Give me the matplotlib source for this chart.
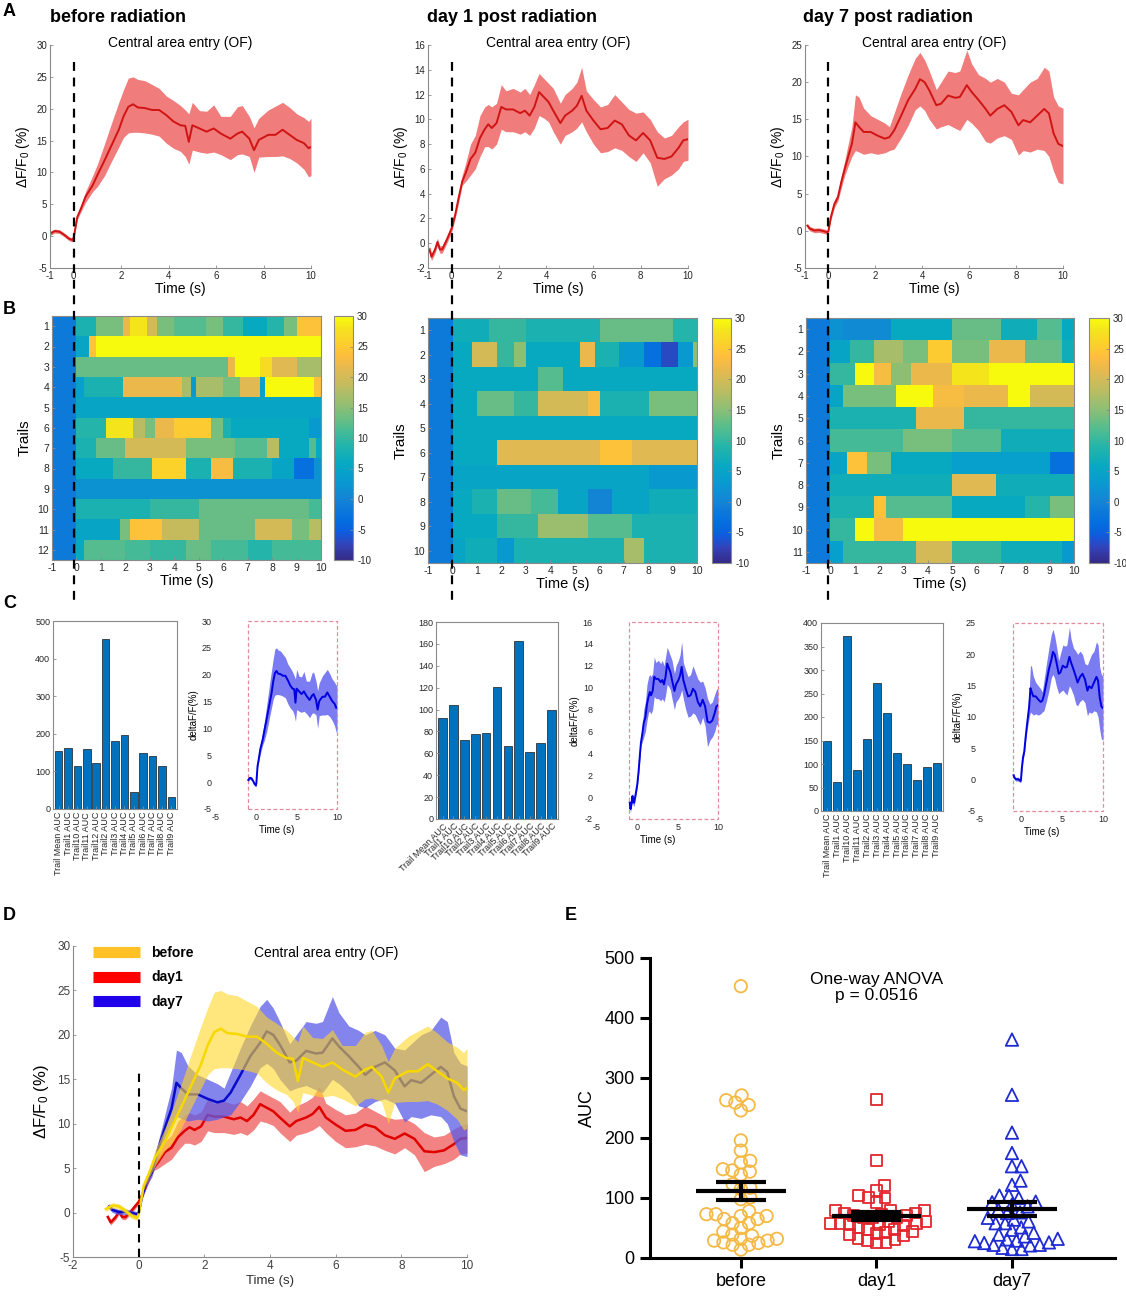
import numpy as np
import matplotlib
matplotlib.use("Agg")
import matplotlib.pyplot as plt
from matplotlib.colors import LinearSegmentedColormap
from matplotlib.lines import Line2D
from matplotlib.patches import Rectangle

plt.rcParams["font.family"] = ["Liberation Sans", "DejaVu Sans"]
plt.rcParams["mathtext.fontset"] = "custom"
plt.rcParams["mathtext.rm"] = "Liberation Sans"
plt.rcParams["mathtext.it"] = "Liberation Sans:italic"
plt.rcParams["mathtext.bf"] = "Liberation Sans:bold"
plt.rcParams["axes.unicode_minus"] = False

# ---------------------------------------------------------------- data
# mean trace and SEM band (lower / upper)
before_t = [-1.0, -0.8, -0.6, -0.4, -0.2, -0.05, 0.0, 0.15, 0.3, 0.5, 0.8, 1.0, 1.3, 1.6, 1.9,
            2.1, 2.3, 2.5, 2.7, 3.0, 3.3, 3.6, 3.9, 4.2, 4.5, 4.7, 4.85, 5.0, 5.3, 5.6, 5.9,
            6.2, 6.6, 6.9, 7.1, 7.4, 7.6, 7.8, 8.2, 8.5, 8.8, 9.1, 9.4, 9.7, 9.9, 10.0]
before_mean = [0.4, 0.8, 0.7, 0.2, -0.4, -0.6, -0.2, 3.0, 4.3, 6.2, 8.0, 9.6, 11.9, 14.3, 16.7,
               18.8, 20.3, 20.7, 20.2, 20.1, 19.8, 19.8, 19.0, 18.0, 17.4, 17.3, 14.8, 17.4, 16.9, 16.4, 16.9,
               16.1, 15.3, 16.1, 16.4, 15.3, 13.5, 15.1, 15.9, 15.9, 16.7, 15.9, 15.1, 14.6, 13.8, 14.0]
before_lo = [0.1, 0.5, 0.4, -0.1, -0.7, -0.9, -0.5, 2.6, 3.8, 5.3, 7.0, 7.8, 9.5, 11.8, 14.0,
             15.5, 16.2, 16.3, 16.3, 16.2, 16.0, 15.7, 14.6, 13.8, 13.3, 12.5, 11.3, 13.5, 13.2, 13.0, 13.2,
             12.8, 12.0, 12.8, 12.9, 12.5, 10.0, 12.4, 12.5, 12.5, 12.6, 12.2, 11.5, 10.5, 9.3, 9.5]
before_hi = [0.7, 1.1, 1.0, 0.5, -0.1, -0.3, 0.1, 3.4, 4.8, 7.0, 9.5, 11.3, 14.5, 17.8, 21.0,
             23.0, 24.8, 25.0, 24.6, 24.4, 23.8, 23.2, 22.0, 21.3, 20.5, 19.8, 19.2, 21.0, 19.7, 19.6, 20.6,
             18.8, 18.8, 20.3, 20.5, 18.8, 17.0, 18.5, 19.8, 20.4, 21.0, 20.2, 19.2, 18.6, 18.0, 18.5]

day1_t = [-0.94, -0.85, -0.7, -0.6, -0.5, -0.4, -0.2, 0.0, 0.15, 0.3, 0.45, 0.6, 0.8,
          1.0, 1.2, 1.4, 1.55, 1.7, 1.9, 2.1, 2.3, 2.6, 2.9, 3.1, 3.3, 3.5, 3.7, 3.9,
          4.1, 4.3, 4.6, 4.8, 5.1, 5.3, 5.5, 5.7, 6.0, 6.3, 6.6, 6.9, 7.2, 7.5, 7.8,
          8.1, 8.4, 8.7, 9.0, 9.3, 9.6, 9.8, 10.0]
day1_mean = [-0.5, -1.1, -0.5, 0.1, -0.5, -0.5, 0.3, 1.2, 2.3, 3.7, 5.0, 5.7, 6.8,
             7.3, 8.5, 9.2, 9.6, 9.3, 9.7, 11.0, 10.8, 10.8, 10.5, 10.7, 10.3, 11.0, 12.2, 11.8,
             11.4, 10.7, 9.7, 10.3, 10.7, 11.1, 11.9, 10.7, 9.9, 9.2, 9.3, 9.9, 9.6, 8.7, 8.3,
             8.9, 8.3, 6.9, 6.8, 7.0, 7.7, 8.3, 8.4]
day1_lo = [-0.8, -1.4, -0.8, -0.2, -0.8, -0.8, 0.0, 0.9, 2.0, 3.3, 4.7, 5.0, 5.5,
           6.0, 7.0, 7.8, 7.8, 7.6, 8.0, 9.2, 9.0, 9.0, 8.8, 9.0, 8.7, 9.3, 10.3, 10.1,
           9.8, 9.0, 8.0, 8.7, 9.0, 9.3, 9.8, 9.0, 8.0, 7.3, 7.4, 7.7, 7.5, 7.0, 6.6,
           7.3, 6.5, 4.6, 5.2, 5.5, 6.0, 6.6, 6.7]
day1_hi = [-0.2, -0.8, -0.2, 0.4, -0.2, -0.2, 0.6, 1.5, 2.6, 4.1, 5.5, 6.5, 8.0,
           8.7, 10.3, 11.0, 11.2, 11.0, 11.3, 12.8, 12.3, 12.5, 12.2, 12.5, 12.0, 12.8, 13.7, 13.3,
           12.9, 12.5, 11.3, 12.0, 12.5, 13.0, 14.2, 12.3, 11.6, 11.0, 11.2, 12.0, 11.4, 10.8, 10.5,
           10.6, 10.0, 9.0, 8.5, 8.7, 9.4, 9.8, 10.0]

day7_t = [-0.9, -0.8, -0.6, -0.4, -0.2, -0.05, 0.0, 0.1, 0.25, 0.4, 0.55, 0.7, 0.85,
          1.0, 1.15, 1.3, 1.5, 1.8, 2.1, 2.4, 2.6, 2.8, 3.1, 3.4, 3.7, 3.9,
          4.1, 4.3, 4.6, 4.8, 5.1, 5.4, 5.6, 5.9, 6.1, 6.4, 6.7, 6.9, 7.2, 7.5, 7.8,
          8.1, 8.3, 8.6, 8.9, 9.2, 9.4, 9.6, 9.8, 10.0]
day7_mean = [0.7, 0.3, 0.05, 0.1, -0.05, -0.2, 0.0, 1.8, 3.6, 4.5, 6.6, 8.4, 10.1,
             11.7, 14.6, 14.0, 13.3, 13.3, 12.8, 12.4, 12.6, 13.5, 15.5, 17.6, 19.1, 20.4,
             20.0, 18.9, 16.9, 17.1, 18.2, 17.9, 18.0, 19.6, 18.7, 17.6, 16.4, 15.5, 16.4, 16.9, 16.0,
             14.2, 14.9, 14.6, 15.5, 16.4, 15.8, 13.1, 11.7, 11.4]
day7_lo = [0.4, 0.0, -0.25, -0.2, -0.35, -0.5, -0.3, 1.4, 3.1, 4.0, 5.8, 7.5, 8.8,
           10.0, 10.8, 10.6, 10.3, 10.5, 10.3, 10.5, 10.8, 11.0, 12.5, 14.2, 16.3, 16.8,
           16.2, 15.0, 13.7, 14.0, 14.3, 13.8, 13.5, 15.0, 14.5, 13.5, 12.0, 11.8, 12.5, 12.8, 12.3,
           10.2, 10.8, 10.6, 11.0, 10.8, 10.0, 8.0, 6.5, 6.3]
day7_hi = [1.0, 0.6, 0.35, 0.4, 0.25, 0.1, 0.3, 2.2, 4.1, 5.0, 7.4, 9.5, 11.8,
           14.0, 18.3, 18.0, 16.5, 15.5, 15.0, 14.5, 14.0, 15.8, 18.5, 21.0, 23.2, 24.0,
           23.0, 21.5, 19.0, 20.0, 21.5, 21.3, 21.5, 24.3, 22.5, 21.0, 20.5, 20.0, 20.5, 20.0, 18.5,
           18.3, 19.0, 20.0, 20.5, 22.0, 21.5, 18.0, 16.8, 16.5]

# heat maps: each trial row as (segment start time, dF/F value) pairs
heat_before = [
    [(-1, -1.5), (0, 8), (0.8, 14), (1.9, 22), (2.2, 28), (2.9, 20), (3.3, 14), (4.0, 12), (5.3, 14), (6.0, 10), (6.8, 6), (7.8, 9), (8.5, 14), (9.0, 24)],
    [(-1, -1.5), (0, 5), (0.5, 24), (0.8, 30)],
    [(-1, -1.5), (0, 13), (6.2, 22), (6.5, 30), (7.5, 27), (8.0, 21), (9.0, 17)],
    [(-1, -1.5), (0, 4), (0.3, 8), (1.9, 22), (4.3, 17), (4.7, 3), (4.9, 17), (6.0, 14), (6.7, 21), (7.5, 4), (7.7, 30), (9.7, 24)],
    [(-1, -1.5), (0, 5)],
    [(-1, -1.5), (0, 9), (1.2, 28), (2.3, 18), (2.8, 14), (3.2, 22), (4.0, 25), (5.5, 14), (6.0, 8), (6.3, 6), (9.5, 3)],
    [(-1, -1.5), (0, 8), (0.8, 13), (2.0, 20), (4.5, 14), (6.5, 12), (7.8, 18), (8.3, 6), (9.5, 12), (9.8, 6)],
    [(-1, -1.5), (0, 6), (1.5, 10), (3.1, 26), (4.5, 8), (5.5, 23), (6.4, 8), (8.0, 5), (8.9, -3), (9.7, 2)],
    [(-1, -1.5), (0, 2)],
    [(-1, -1.5), (0, 8), (3.0, 10), (5.0, 13), (9.5, 11)],
    [(-1, -1.5), (0, 5), (1.8, 14), (2.2, 24), (3.5, 19), (5.0, 13), (7.3, 20), (8.8, 14), (9.5, 18)],
    [(-1, -1.5), (0, 6), (0.3, 12), (2.0, 11), (3.0, 10), (4.5, 13), (5.5, 11), (7.0, 9), (8.0, 11)],
]
heat_day1 = [
    [(-1, -1.5), (0, 7), (1.5, 10), (3.0, 8), (6.0, 13), (9.0, 9)],
    [(-1, -1.5), (0, 6), (0.8, 20), (1.8, 10), (2.5, 15), (3.0, 6), (5.2, 22), (5.8, 8), (6.8, 3), (7.8, -3), (8.5, -7), (9.2, 3), (9.8, 15)],
    [(-1, -1.5), (0, 6), (3.5, 12), (4.5, 6)],
    [(-1, -1.5), (0, 6), (1.0, 13), (2.5, 10), (3.5, 20), (5.5, 23), (6.0, 8), (8.0, 14)],
    [(-1, -1.5), (0, 6)],
    [(-1, -1.5), (0, 6), (1.8, 21), (6.0, 24), (7.3, 21)],
    [(-1, -1.5), (0, 5), (8.0, 3)],
    [(-1, -1.5), (0, 6), (0.8, 8), (1.8, 13), (3.2, 11), (4.3, 5), (5.5, 0), (6.5, 5), (8.0, 7)],
    [(-1, -1.5), (0, 6), (1.8, 10), (3.5, 16), (5.5, 12), (7.3, 8)],
    [(-1, -1.5), (0, 5), (0.5, 7), (1.8, 3), (2.5, 8), (7.0, 17), (7.8, 8)],
]
heat_day7 = [
    [(-1, -1.5), (0, 2), (0.5, 1), (2.5, 6), (5.0, 13), (7.0, 7), (8.5, 12), (9.5, 6)],
    [(-1, -1.5), (0, 5), (0.8, 10), (1.8, 17), (3.0, 14), (4.0, 25), (5.0, 14), (6.5, 22), (8.0, 13), (9.5, 7)],
    [(-1, -1.5), (0, 10), (1.0, 30), (1.8, 23), (2.5, 15), (3.3, 22), (5.0, 28), (6.5, 30)],
    [(-1, -1.5), (0, 5), (0.5, 14), (2.7, 30), (4.2, 23), (5.5, 22), (7.3, 30), (8.2, 20)],
    [(-1, -1.5), (0, 8), (3.5, 22), (5.5, 10)],
    [(-1, -1.5), (0, 11), (3.0, 14), (5.0, 12), (7.0, 7)],
    [(-1, -1.5), (0, 5), (0.7, 24), (1.5, 14), (2.5, 6), (5.0, 4), (9.0, -3)],
    [(-1, -1.5), (0, 7), (5.0, 21), (6.8, 7)],
    [(-1, -1.5), (0, 8), (1.8, 24), (2.3, 12), (5.0, 6), (8.0, 9), (9.0, 14)],
    [(-1, -1.5), (0, 10), (1.0, 30), (1.8, 23), (3.0, 30)],
    [(-1, -1.5), (0, 4), (0.5, 10), (3.5, 20), (5.0, 10), (7.0, 7), (9.5, 3)],
]

# per-trial AUC bars
bar_before_labels = ["Trail Mean AUC", "Trail1 AUC", "Trail10 AUC", "Trail11 AUC", "Trail12 AUC", "Trail2 AUC",
                     "Trail3 AUC", "Trail4 AUC", "Trail5 AUC", "Trail6 AUC", "Trail7 AUC", "Trail8 AUC", "Trail9 AUC"]
bar_before_vals = [155, 162, 115, 160, 122, 453, 180, 196, 45, 148, 140, 115, 32]
bar_day1_labels = ["Trail Mean AUC", "Trail1 AUC", "Trail10 AUC", "Trail2 AUC", "Trail3 AUC", "Trail4 AUC",
                   "Trail5 AUC", "Trail6 AUC", "Trail7 AUC", "Trail8 AUC", "Trail9 AUC"]
bar_day1_vals = [92, 104, 72, 78, 79, 121, 67, 163, 61, 69, 100]
bar_day7_labels = ["Trail Mean AUC", "Trail1 AUC", "Trail10 AUC", "Trail11 AUC", "Trail2 AUC", "Trail3 AUC",
                   "Trail4 AUC", "Trail5 AUC", "Trail6 AUC", "Trail7 AUC", "Trail8 AUC", "Trail9 AUC"]
bar_day7_vals = [150, 62, 373, 87, 154, 272, 209, 123, 99, 66, 93, 103]

# AUC scatter (panel E)
group_names = ["before", "day1", "day7"]
auc_before = [453, 271, 259, 246, 255, 263, 196, 179, 159, 162, 146, 139, 144, 148, 123, 117, 115, 101, 98, 78,
              73, 70, 65, 58, 50, 58, 65, 70, 73, 37, 39, 44, 32, 29, 25, 22, 14, 22, 26, 29, 32]
auc_day1 = [264, 162, 112, 101, 93, 100, 104, 121, 79, 75, 72, 71, 68, 67, 68, 71, 75, 79, 79,
            61, 58, 57, 56, 54, 56, 58, 61, 48, 44, 41, 37, 31, 29, 33, 39, 43, 47, 51, 25, 26]
auc_day7 = [364, 272, 209, 175, 153, 153, 129, 122, 104, 104, 100, 94, 89, 93, 81, 86, 76, 75, 64, 58,
            51, 47, 58, 61, 67, 42, 36, 29, 22, 17, 21, 26, 32, 39, 31, 25, 15, 15, 22, 28]

# ---------------------------------------------------------------- figure
W, H = 1126, 1300
fig = plt.figure(figsize=(W / 100, H / 100), dpi=100)


def add_ax(l, t, r, b):
    return fig.add_axes([l / W, 1 - b / H, (r - l) / W, (b - t) / H])


GRAY = "#8a8a8a"
TXT = "#262626"


def matlab_style(ax, box=False, fs=7):
    ax.spines["top"].set_visible(box)
    ax.spines["right"].set_visible(box)
    for s in ax.spines.values():
        s.set_color(GRAY)
        s.set_linewidth(0.8)
    ax.tick_params(direction="in", length=2.5, width=0.6, colors=GRAY, labelcolor=TXT, labelsize=fs, pad=2)


PARULA = [(0.0, (0.2081, 0.1663, 0.5292)), (0.063, (0.1959, 0.2645, 0.7279)), (0.111, (0.0591, 0.3598, 0.8683)),
          (0.159, (0.0165, 0.4266, 0.8786)), (0.254, (0.0793, 0.5200, 0.8312)), (0.317, (0.0343, 0.5966, 0.8199)),
          (0.397, (0.0267, 0.6642, 0.7607)), (0.476, (0.1453, 0.7098, 0.6646)), (0.556, (0.3482, 0.7424, 0.5473)),
          (0.635, (0.5709, 0.7485, 0.4494)), (0.714, (0.7525, 0.7384, 0.3768)), (0.794, (0.9139, 0.7258, 0.3063)),
          (0.841, (0.9938, 0.7455, 0.2403)), (0.889, (0.9880, 0.8066, 0.1794)), (0.952, (0.9589, 0.8949, 0.1132)),
          (1.0, (0.9763, 0.9831, 0.0538))]
parula = LinearSegmentedColormap.from_list("parula", PARULA)

series = [(before_t, before_mean, before_lo, before_hi),
          (day1_t, day1_mean, day1_lo, day1_hi),
          (day7_t, day7_mean, day7_lo, day7_hi)]
titles = ["before radiation", "day 1 post radiation", "day 7 post radiation"]
title_x = [50, 427, 803]
A_cols = [(50, 311), (428, 688), (805, 1063)]
A_ylims = [(-5, 30, 5), (-2, 16, 2), (-5, 25, 5)]

# ---------------- panel A
axesA = []
for i in range(3):
    ax = add_ax(A_cols[i][0], 45, A_cols[i][1], 268)
    t, m, lo, hi = series[i]
    ax.fill_between(t, lo, hi, color="#F07C7C", lw=0)
    ax.plot(t, m, color="#D01414", lw=1.4)
    y0, y1, ys = A_ylims[i]
    ax.set_ylim(y0, y1)
    ax.set_yticks(list(range(y0, y1 + 1, ys)))
    ax.set_xlim(-1, 10)
    ax.set_xticks([-1, 0, 2, 4, 6, 8, 10])
    matlab_style(ax, fs=7)
    ax.set_xlabel("Time (s)", fontsize=10, labelpad=1, color="black")
    ax.set_ylabel(r"ΔF/F$_0$ (%)", fontsize=10, labelpad=3, color="black")
    ax.text(0.5, 1.01, "Central area entry (OF)", transform=ax.transAxes, ha="center", va="center", fontsize=10)
    fig.text(title_x[i] / W, 1 - 18 / H, titles[i], fontsize=13, fontweight="bold", va="center")
    axesA.append(ax)

# ---------------- panel B
grid_t = np.arange(-1, 10, 0.05) + 0.025


def heat_image(rows):
    img = []
    for row in rows:
        starts = np.array([s for s, _ in row], float)
        vals = np.array([v for _, v in row], float)
        img.append(vals[np.searchsorted(starts, grid_t, side="right") - 1])
    return np.array(img)


heats = [heat_before, heat_day1, heat_day7]
B_boxes = [(52, 316, 321, 560, 334, 353), (428, 318, 697, 563, 712, 731), (806, 318, 1074, 563, 1089, 1109)]
for i in range(3):
    l, t, r, b, cl, cr = B_boxes[i]
    ax = add_ax(l, t, r, b)
    n = len(heats[i])
    im = ax.imshow(heat_image(heats[i]), cmap=parula, vmin=-10, vmax=30, aspect="auto",
                   extent=(-1, 10, n + 0.5, 0.5), interpolation="nearest")
    ax.set_xticks(list(range(-1, 11)))
    ax.set_yticks(list(range(1, n + 1)))
    matlab_style(ax, box=True, fs=7.5)
    ax.set_xlabel("Time (s)", fontsize=10.5, labelpad=1, color="black")
    ax.set_ylabel("Trails", fontsize=11, labelpad=4, color="black")
    cax = add_ax(cl, t, cr, b)
    cb = fig.colorbar(im, cax=cax, ticks=list(range(-10, 31, 5)))
    cb.outline.set_edgecolor(GRAY)
    cb.outline.set_linewidth(0.8)
    cb.ax.tick_params(direction="in", length=2, width=0.6, colors=GRAY, labelcolor=TXT, labelsize=7, pad=3)

# dashed event line crossing panels A and B
for ax in axesA:
    xf = ax.transData.transform((0, 0))[0] / fig.bbox.width
    fig.add_artist(Line2D([xf, xf], [1 - 62 / H, 1 - 600 / H], transform=fig.transFigure,
                          color="black", lw=1.6, ls=(0, (4, 3))))

# ---------------- panel C
bars = [(bar_before_labels, bar_before_vals), (bar_day1_labels, bar_day1_vals), (bar_day7_labels, bar_day7_vals)]
C_bar_boxes = [(53, 621, 177, 809), (436, 622, 558, 819), (821, 623, 943, 811)]
C_line_boxes = [(216, 621, 337, 809), (597, 622, 718, 819), (980, 623, 1103, 811)]
C_bar_ylims = [(0, 500, 100), (0, 180, 20), (0, 400, 50)]
C_rot = [90, 45, 90]
for i in range(3):
    labels, vals = bars[i]
    ax = add_ax(*C_bar_boxes[i])
    x = np.arange(len(vals))
    ax.bar(x, vals, width=0.8, color="#0072BD", edgecolor="#1a1a1a", linewidth=0.5)
    y0, y1, ys = C_bar_ylims[i]
    ax.set_ylim(y0, y1)
    ax.set_yticks(list(range(y0, y1 + 1, ys)))
    ax.set_xlim(-0.6, len(vals) - 0.4)
    ax.set_xticks(x)
    matlab_style(ax, box=True, fs=6.5)
    if C_rot[i] == 90:
        ax.set_xticklabels(labels, rotation=90, ha="center", va="top")
    else:
        ax.set_xticklabels(labels, rotation=45, ha="right", va="top", rotation_mode="anchor")

    t, m, lo, hi = series[i]
    ax2 = add_ax(*C_line_boxes[i])
    ax2.fill_between(t, lo, hi, color="#7B7BF2", lw=0)
    ax2.plot(t, m, color="#0000E0", lw=1.4)
    y0, y1, ys = A_ylims[i]
    ax2.set_ylim(y0, y1)
    ax2.set_yticks(list(range(y0, y1 + 1, ys)))
    ax2.set_xlim(-5, 10)
    ax2.set_xticks([-5, 0, 5, 10])
    for s in ax2.spines.values():
        s.set_visible(False)
    ax2.tick_params(length=0, labelsize=6.5, labelcolor=TXT, pad=3)
    ax2.add_patch(Rectangle((-1, y0), 11, y1 - y0, fill=False, ec="#E58A9A", ls=(0, (3, 2)), lw=0.9, clip_on=False))
    ax2.set_xlabel("Time (s)", fontsize=7, labelpad=2)
    ax2.set_ylabel("deltaF/F(%)", fontsize=7, labelpad=2)

# ---------------- panel D
axD = add_ax(73, 946, 467, 1257)
D_order = [1, 2, 0]   # day1 first, then day7, before on top
D_style = {1: ("#F27676", 0.9, "#E00000"), 2: ("#5B5BE8", 0.75, "#0A0ACC"), 0: ("#FFD728", 0.6, "#F7D800")}
for k, idx in enumerate(D_order):
    t, m, lo, hi = series[idx]
    fc, fa, lc = D_style[idx]
    axD.fill_between(t, lo, hi, color=fc, alpha=fa, lw=0, zorder=1 + 2 * k)
    axD.plot(t, m, color=lc, lw=1.8, zorder=2 + 2 * k)
axD.axvline(0, ymin=0, ymax=0.6, color="black", lw=1.5, ls=(0, (4, 3)), zorder=10)
axD.set_xlim(-2, 10)
axD.set_ylim(-5, 30)
axD.set_xticks(list(range(-2, 11, 2)))
axD.set_yticks(list(range(-5, 31, 5)))
matlab_style(axD, fs=8.5)
axD.tick_params(labelcolor="#404040")
axD.set_xlabel("Time (s)", fontsize=9.5, labelpad=2, color="#303030")
axD.set_ylabel(r"ΔF/F$_0$ (%)", fontsize=12, labelpad=4)
handles = [Line2D([], [], color=c, lw=8, solid_capstyle="butt") for c in ["#FFC125", "#FF0000", "#2000E8"]]
axD.legend(handles, group_names, loc="upper left", bbox_to_anchor=(0.05, 1.0), frameon=False,
           handlelength=3.4, handletextpad=0.8, labelspacing=0.75, borderaxespad=0, borderpad=0,
           prop={"weight": "bold", "size": 10})
axD.text(0.642, 0.977, "Central area entry (OF)", transform=axD.transAxes, ha="center", va="center", fontsize=10)

# ---------------- panel E
axE = add_ax(650, 958, 1115, 1258)
axE.set_xlim(-0.67, 2.76)
axE.set_ylim(0, 500)
x_px_per_unit = (1115 - 650) / (2.76 + 0.67)
y_px_per_unit = 300 / 500


def swarm_offsets(vals, d):
    y = np.asarray(vals, float) * y_px_per_unit
    xs = np.zeros(len(y))
    placed = []
    for i in np.argsort(y, kind="stable"):
        yi = y[i]
        near = [(px, py) for px, py in placed if abs(py - yi) < d]
        cands = [0.0]
        for px, py in near:
            dx = np.sqrt(d * d - (py - yi) ** 2)
            cands += [px + dx, px - dx]
        cands.sort(key=abs)
        for c in cands:
            if all((c - px) ** 2 + (yi - py) ** 2 >= d * d - 1e-6 for px, py in near):
                xs[i] = c
                break
        placed.append((xs[i], yi))
    return xs / x_px_per_unit


E_groups = [(auc_before, "o", "#F5B946", 80), (auc_day1, "s", "#E3262C", 60), (auc_day7, "^", "#1F2BD3", 80)]
for gi, (vals, mk, col, sz) in enumerate(E_groups):
    off = swarm_offsets(vals, 9.5)
    axE.scatter(gi + off, vals, marker=mk, s=sz, facecolors="none", edgecolors=col, linewidths=1.3, zorder=2)
    v = np.asarray(vals, float)
    mean = v.mean()
    sem = v.std(ddof=1) / np.sqrt(len(v))
    axE.hlines(mean, gi - 0.33, gi + 0.33, color="black", lw=3, zorder=3)
    axE.hlines([mean - sem, mean + sem], gi - 0.185, gi + 0.185, color="black", lw=3, zorder=3)
    axE.vlines(gi, mean - sem, mean + sem, color="black", lw=3, zorder=3)
axE.set_xticks([0, 1, 2])
axE.set_xticklabels(group_names)
axE.set_yticks(list(range(0, 501, 100)))
axE.spines["top"].set_visible(False)
axE.spines["right"].set_visible(False)
for s in ["left", "bottom"]:
    axE.spines[s].set_linewidth(2.2)
axE.tick_params(direction="out", length=7, width=2.2, labelsize=13, pad=4)
axE.set_ylabel("AUC", fontsize=13, labelpad=6)
axE.text(1, 451, "One-way ANOVA\np = 0.0516", ha="center", va="center", fontsize=12.5, linespacing=1.15)

# ---------------- panel letters
for letter, (px, py) in {"A": (3, 12), "B": (3, 310), "C": (3, 604), "D": (3, 915), "E": (565, 915)}.items():
    fig.text(px / W, 1 - py / H, letter, fontsize=13, fontweight="bold", va="center", ha="left")

fig.savefig("out.png", dpi=100)
